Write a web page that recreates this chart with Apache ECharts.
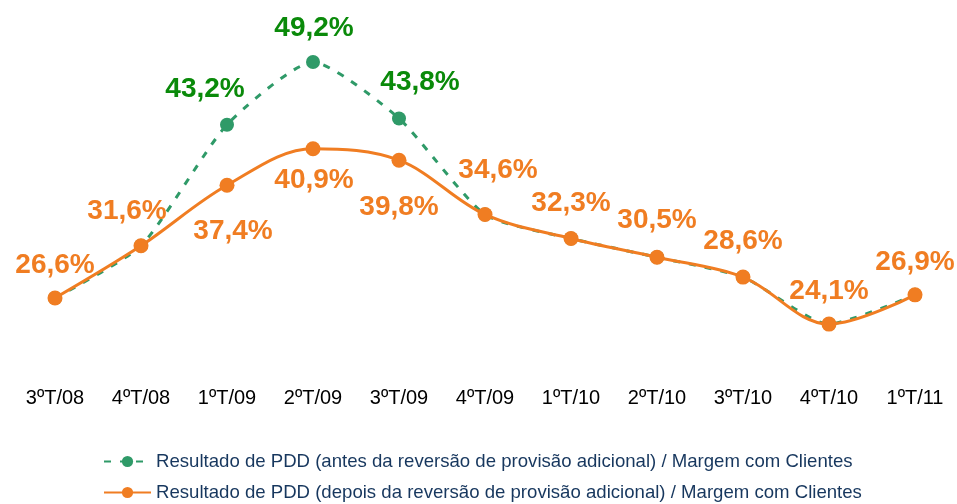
<!DOCTYPE html>
<html>
<head>
<meta charset="utf-8">
<script src="https://cdn.jsdelivr.net/npm/echarts@6/dist/echarts.min.js"></script>
<style>
  html, body { margin: 0; padding: 0; background: #fff; }
  #chart { width: 957px; height: 504px; }
</style>
</head>
<body>
<div id="chart"></div>
<script>
// categorias (trimestres)
var categories = ["3ºT/08", "4ºT/08", "1ºT/09", "2ºT/09", "3ºT/09", "4ºT/09", "1ºT/10", "2ºT/10", "3ºT/10", "4ºT/10", "1ºT/11"];
// antes da reversão
var antesValues = [26.6, 31.6, 43.2, 49.2, 43.8, 34.6, 32.3, 30.5, 28.6, 24.1, 26.9];
// depois da reversão
var depoisValues = [26.6, 31.6, 37.4, 40.9, 39.8, 34.6, 32.3, 30.5, 28.6, 24.1, 26.9];

var nameAntes = "Resultado de PDD (antes da reversão de provisão adicional) / Margem com Clientes";
var nameDepois = "Resultado de PDD (depois da reversão de provisão adicional) / Margem com Clientes";

var ORANGE = "#f07d22";
var GREEN = "#2f9a68";
var GREEN_TXT = "#0a8a0a";
var FONT = "'Liberation Sans', Arial, sans-serif";

// deslocamento dos rótulos [dx, dy] relativo ao ponto
var depoisLabelOffset = [[0, -33], [-14, -35], [6, 46], [1, 32], [0, 47], [13, -44], [0, -35], [0, -37], [0, -36], [0, -33], [0, -33]];
var antesLabelOffset = { 2: [-22, -35], 3: [1, -34], 4: [21, -36] };

function fmt(v) {
  return v.toFixed(1).replace(".", ",") + "%";
}

function legendBox(name, top) {
  return {
    left: 103,
    top: top,
    padding: 0,
    itemWidth: 47,
    itemHeight: 14,
    itemGap: 0,
    textStyle: { color: "#17375e", fontFamily: FONT, fontSize: 18.6, padding: [0, 0, 0, 0] },
    data: [name]
  };
}

var chart = echarts.init(document.getElementById("chart"));

var option = {
  backgroundColor: "#fff",
  animation: false,
  grid: { left: 55, right: 42, top: 53.7, height: 313.2 },
  xAxis: {
    type: "category",
    boundaryGap: false,
    data: categories,
    axisLine: { show: false },
    axisTick: { show: false },
    axisLabel: {
      color: "#000",
      fontFamily: FONT,
      fontSize: 20,
      margin: 22
    }
  },
  yAxis: {
    type: "value",
    min: 20,
    max: 50,
    show: false,
    splitLine: { show: false }
  },
  legend: [legendBox(nameAntes, 452), legendBox(nameDepois, 483)],
  series: [
    {
      name: nameAntes,
      type: "line",
      smooth: 0.2,
      symbol: "circle",
      symbolSize: 14,
      lineStyle: { color: GREEN, width: 3, type: [7, 9] },
      itemStyle: { color: GREEN },
      data: antesValues.map(function (v, i) {
        var off = antesLabelOffset[i];
        return {
          value: v,
          label: {
            show: !!off,
            position: "inside",
            offset: off || [0, 0],
            formatter: fmt(v),
            color: GREEN_TXT,
            fontFamily: FONT,
            fontWeight: "bold",
            fontSize: 28
          }
        };
      })
    },
    {
      name: nameDepois,
      type: "line",
      smooth: 0.35,
      symbol: "circle",
      symbolSize: 15,
      lineStyle: { color: ORANGE, width: 3 },
      itemStyle: { color: ORANGE },
      data: depoisValues.map(function (v, i) {
        return {
          value: v,
          label: {
            show: true,
            position: "inside",
            offset: depoisLabelOffset[i],
            formatter: fmt(v),
            color: ORANGE,
            fontFamily: FONT,
            fontWeight: "bold",
            fontSize: 28
          }
        };
      })
    }
  ]
};

chart.setOption(option);
</script>
</body>
</html>
